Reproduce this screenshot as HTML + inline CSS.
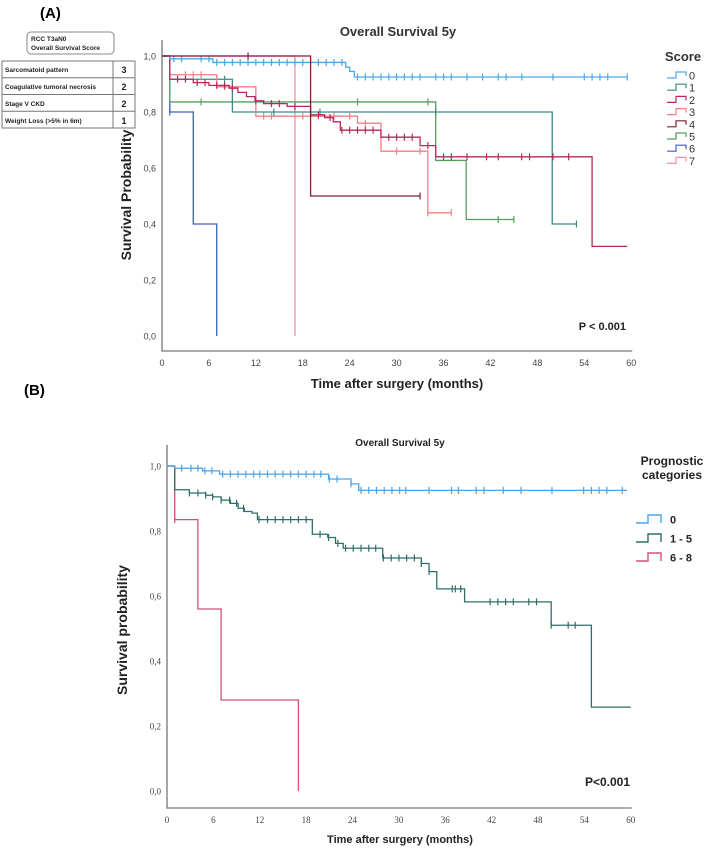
<!DOCTYPE html>
<html><head><meta charset="utf-8"><style>
body{margin:0;background:#fff;width:709px;height:850px;overflow:hidden;font-family:"Liberation Sans",sans-serif}
svg{display:block}
</style></head><body>
<svg id="chart" width="709" height="850" viewBox="0 0 709 850" xmlns="http://www.w3.org/2000/svg" font-family="Liberation Sans, sans-serif">
<text x="40" y="18" font-size="15" font-weight="bold">(A)</text>
<text x="24" y="395" font-size="15" font-weight="bold">(B)</text>
<g>
<rect x="27" y="32" width="87" height="22" rx="4" fill="#fff" stroke="#888"/>
<text x="31" y="41" font-size="6.5" font-weight="bold" fill="#222">RCC T3aN0</text>
<text x="31" y="50" font-size="6.5" font-weight="bold" fill="#222">Overall Survival Score</text>
<rect x="2" y="61" width="133" height="67" fill="#fff" stroke="#777"/>
<line x1="113" y1="61" x2="113" y2="128" stroke="#777"/>
<line x1="2" y1="77.7" x2="135" y2="77.7" stroke="#777"/>
<line x1="2" y1="94.5" x2="135" y2="94.5" stroke="#777"/>
<line x1="2" y1="111.2" x2="135" y2="111.2" stroke="#777"/>
<g font-size="6.5" font-weight="bold" fill="#222">
<text x="5" y="72">Sarcomatoid pattern</text>
<text x="5" y="89">Coagulative tumoral necrosis</text>
<text x="5" y="106">Stage V CKD</text>
<text x="5" y="123">Weight Loss (&gt;5% in 6m)</text>
</g>
<g font-size="9" font-weight="bold" fill="#222" text-anchor="middle">
<text x="124" y="73">3</text><text x="124" y="90">2</text><text x="124" y="107">2</text><text x="124" y="124">1</text>
</g>
</g>
<g id="panelA"></g>
<g id="panelB"></g>
</svg>
<script>
// Panel A data
const aCats = ["0","1","2","3","4","5","6","7"];
const aColors = ["#4da6e8","#3c8a82","#b8285e","#f17f86","#7b2330","#55a060","#3c5fc4","#f28fae"];
const a0t=[0,1,6.5,23.5,24,24.6], a0v=[1,0.99,0.977,0.96,0.945,0.925], a0end=59.5;
const a0c=[1.5,2.5,5,6,7,8,9,10,11,12,13,14,15,16,17,18,19,20,21,22,23,25,26,27,28,29,30,31,32,33,35,36,37,39,41,43,44,46,50,54,55,56,57,59.5];
const a1t=[0,1,9,49.9], a1v=[1,0.917,0.80,0.40], a1end=53, a1c=[8,14.3,20.2,35,53];
const a2t=[0,1,4,6,8.6,9.7,10.8,11.9,13,16,19,20.8,21.9,22.8,28,33,35,55];
const a2v=[1,0.917,0.905,0.895,0.885,0.87,0.855,0.84,0.83,0.82,0.79,0.78,0.765,0.735,0.71,0.68,0.64,0.32], a2end=59.5;
const a2c=[2,3,4.5,5.5,7,8,9,12,14,15,17,20,21.5,23,24,25,26,27,29,30,31,32,34,36,37,39,41.5,43,46,47,50,52];
const a3t=[0,1,7,12,25,28,34], a3v=[1,0.933,0.89,0.785,0.76,0.66,0.44], a3end=37, a3c=[3,4,5,8,13,14,18,20,22,24,26,30,33,34,37];
const a4t=[0,19], a4v=[1,0.5], a4end=33, a4c=[11,33];
const a5t=[0,1,35,38.9], a5v=[1,0.836,0.627,0.416], a5end=45, a5c=[5,25,34,43,45];
const a6t=[0,1,4,7], a6v=[1,0.8,0.4,0], a6end=7, a6c=[1];
const a7t=[0,17], a7v=[1,0], a7end=17, a7c=[];
// Panel B data
const bCats=["0","1 - 5","6 - 8"];
const bColors=["#4aa3e8","#2e6e6a","#d0507e"];
const b0t=[0,1,4.6,6.8,20.9,23.8,24.8], b0v=[1,0.993,0.985,0.975,0.96,0.945,0.925], b0end=59.5;
const b0c=[1.9,3.1,4,4.9,5.8,7.2,8.2,9.2,10.2,11.2,12,13,14,15,16,17,18,19,19.9,21,22,23.8,25.1,26.1,27.1,28.1,29.1,30.1,30.9,33.9,36.8,37.7,40,41,43.5,45.8,49.8,53.9,54.9,55.9,56.9,58.9];
const b1t=[0,1,2.9,5,5.9,7,8.2,9.2,10,11,11.7,18.8,20.8,21.8,22.8,27.9,32.9,33.9,34.9,38.5,49.7,54.9];
const b1v=[1,0.927,0.917,0.91,0.905,0.895,0.885,0.87,0.86,0.855,0.835,0.79,0.78,0.762,0.747,0.717,0.70,0.675,0.622,0.582,0.51,0.258], b1end=60;
const b1c=[2.9,4,5,5.9,7,8.1,9,9.9,11.9,13,14,15,16,17,18,19.8,20.9,22.1,23.1,24.1,25.1,26.1,27,28,29,30,31,32,32.9,33.9,36.9,37.3,38,41.8,42.8,43.8,44.8,46.8,47.8,49.7,51.9,52.8];
const b2t=[0,1,4,7,17], b2v=[1,0.835,0.56,0.28,0], b2end=17, b2c=[1];
const xTicks=[0,6,12,18,24,30,36,42,48,54,60];
const yTicks=[0,0.2,0.4,0.6,0.8,1.0];
const yTickLabels=["0,0","0,2","0,4","0,6","0,8","1,0"];

const NS="http://www.w3.org/2000/svg";
function mk(parent,tag,attrs,text){const e=document.createElementNS(NS,tag);for(const k in attrs)e.setAttribute(k,attrs[k]);if(text!==undefined)e.textContent=text;parent.appendChild(e);return e;}
function survAt(ts,vs,t){let s=vs[0];for(let i=0;i<ts.length;i++){if(ts[i]<=t)s=vs[i];}return s;}

function drawPanel(g,cfg){
  const X=t=>cfg.x0+t*cfg.xs, Y=s=>cfg.y0-s*cfg.ys;
  const ax=mk(g,'path',{d:`M${cfg.axL} ${cfg.axT} V${cfg.axB} H${X(60)+1}`,fill:'none',stroke:'#777','stroke-width':1.3});
  
  
  xTicks.forEach(t=>{
    const e=mk(g,'text',{x:X(t),y:cfg.axB+cfg.tickDy,'font-size':cfg.tickFs,'text-anchor':'middle',fill:'#444','font-family':cfg.tickFont},String(t));
    
    
  });
  yTicks.forEach((v,i)=>{
    const e=mk(g,'text',{x:cfg.axL-6,y:Y(v)+3.5,'font-size':cfg.tickFs,'text-anchor':'end',fill:'#444','font-family':cfg.tickFont},yTickLabels[i]);
    
    
  });
  cfg.series.forEach((s,si)=>{
    let d=`M${X(s.t[0])} ${Y(s.v[0])}`;
    for(let i=1;i<s.t.length;i++){d+=` H${X(s.t[i])} V${Y(s.v[i])}`;}
    d+=` H${X(s.end)}`;
    const p=mk(g,'path',{d:d,fill:'none',stroke:s.color,'stroke-width':1.3});
    
    
    s.c.forEach(ct=>{
      const yy=Y(survAt(s.t,s.v,ct));
      const m=mk(g,'line',{x1:X(ct),x2:X(ct),y1:yy-3.5,y2:yy+3.5,stroke:s.color,'stroke-width':1.2});
      
      
    });
  });
}
const gA=document.getElementById('panelA');
const seriesA=[
 {t:a7t,v:a7v,end:a7end,c:a7c,color:aColors[7],name:'score-7'},
 {t:a6t,v:a6v,end:a6end,c:a6c,color:aColors[6],name:'score-6'},
 {t:a5t,v:a5v,end:a5end,c:a5c,color:aColors[5],name:'score-5'},
 {t:a1t,v:a1v,end:a1end,c:a1c,color:aColors[1],name:'score-1'},
 {t:a3t,v:a3v,end:a3end,c:a3c,color:aColors[3],name:'score-3'},
 {t:a2t,v:a2v,end:a2end,c:a2c,color:aColors[2],name:'score-2'},
 {t:a0t,v:a0v,end:a0end,c:a0c,color:aColors[0],name:'score-0'},
 {t:a4t,v:a4v,end:a4end,c:a4c,color:aColors[4],name:'score-4'}];
drawPanel(gA,{x0:162,xs:7.82,y0:336,ys:280,axL:162,axT:40,axB:351,tickDy:15,tickFs:9,tickFont:'Liberation Sans, sans-serif',series:seriesA});
const gB=document.getElementById('panelB');
const seriesB=[
 {t:b2t,v:b2v,end:b2end,c:b2c,color:bColors[2],name:'cat-6-8'},
 {t:b1t,v:b1v,end:b1end,c:b1c,color:bColors[1],name:'cat-1-5'},
 {t:b0t,v:b0v,end:b0end,c:b0c,color:bColors[0],name:'cat-0'}];
drawPanel(gB,{x0:167,xs:7.73,y0:791,ys:325,axL:167,axT:445,axB:808,tickDy:15,tickFs:9,tickFont:'Liberation Serif, serif',series:seriesB});

function txt(g,x,y,s,attrs,name){const e=mk(g,'text',Object.assign({x:x,y:y},attrs),s);return e;}
txt(gA,398,36,'Overall Survival 5y',{'font-size':13,'font-weight':'bold','text-anchor':'middle',fill:'#333'},'chart-title-a');
txt(gA,397,388,'Time after surgery (months)',{'font-size':13,'font-weight':'bold','text-anchor':'middle',fill:'#222'},'x-axis-title-a');
txt(gA,0,0,'Survival Probability',{'font-size':14,'font-weight':'bold','text-anchor':'middle',fill:'#222',transform:'translate(131 195) rotate(-90)'},'y-axis-title-a');
txt(gA,626,330,'P < 0.001',{'font-size':11,'font-weight':'bold','text-anchor':'end',fill:'#222'},'p-value-a');
txt(gA,683,61,'Score',{'font-size':13,'font-weight':'bold','text-anchor':'middle',fill:'#333'},'legend-title-a');
aCats.forEach((c,i)=>{
  const y=75+i*12.2;
  const p=mk(gA,'path',{d:`M667 ${y+3} H676 V${y-3} H686 V${y+1}`,fill:'none',stroke:aColors[i],'stroke-width':1.2});
  
  
  txt(gA,689,y+4.5,c,{'font-size':11,fill:'#333'},'legend-entry');
});
txt(gB,400,446,'Overall Survival 5y',{'font-size':10,'font-weight':'bold','text-anchor':'middle',fill:'#222'},'chart-title-b');
txt(gB,400,843,'Time after surgery (months)',{'font-size':11,'font-weight':'bold','text-anchor':'middle',fill:'#222'},'x-axis-title-b');
txt(gB,0,0,'Survival probability',{'font-size':14,'font-weight':'bold','text-anchor':'middle',fill:'#222',transform:'translate(127 630) rotate(-90)'},'y-axis-title-b');
txt(gB,630,786,'P<0.001',{'font-size':12,'font-weight':'bold','text-anchor':'end',fill:'#222'},'p-value-b');
txt(gB,672,465,'Prognostic',{'font-size':12,'font-weight':'bold','text-anchor':'middle',fill:'#222'},'legend-title-b-line1');
txt(gB,672,479,'categories',{'font-size':12,'font-weight':'bold','text-anchor':'middle',fill:'#222'},'legend-title-b-line2');
bCats.forEach((c,i)=>{
  const y=519+i*19;
  const p=mk(gB,'path',{d:`M636 ${y+4} H648 V${y-4} H661 V${y+4}`,fill:'none',stroke:bColors[i],'stroke-width':1.4});
  
  
  txt(gB,670,y+4.5,c,{'font-size':11,'font-weight':'bold',fill:'#222'},'legend-entry');
});
</script>
</body></html>
